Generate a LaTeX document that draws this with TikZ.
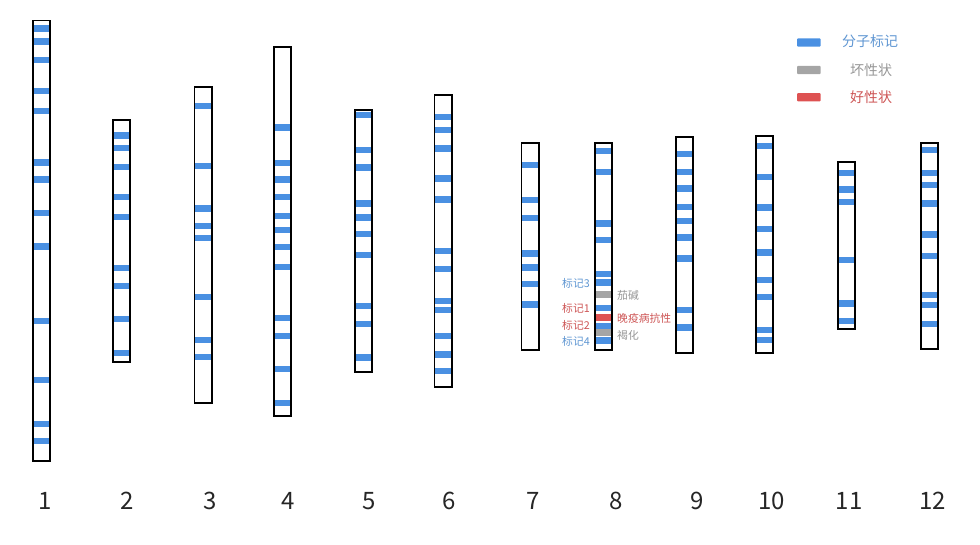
\documentclass[tikz,border=0pt]{standalone}
\usepackage{fontspec}
\setmainfont{Liberation Sans}
\newfontfamily\cjk{Noto Sans CJK SC}
\usetikzlibrary{positioning}
\definecolor{markblue}{RGB}{74,144,226}
\definecolor{badgray}{RGB}{165,165,165}
\definecolor{goodred}{RGB}{222,82,82}
\definecolor{txtblue}{RGB}{95,150,210}
\definecolor{txtred}{RGB}{205,85,85}
\definecolor{txtgray}{RGB}{150,150,150}
\tikzset{band/.style = {fill=markblue},
         chrbox/.style = {draw=black, line width=1.8pt},
         numlabel/.style = {font=\cjk\fontsize{24}{24}\selectfont, text=black!85, anchor=base, inner sep=0pt},
         marklabel/.style = {font=\cjk\fontsize{10.8}{11}\selectfont, inner sep=0pt},
         legendtext/.style = {font=\cjk\fontsize{14}{14}\selectfont, inner sep=0pt, anchor=west}}

% chromosome: name, centre x, top, bottom, band positions
\newcommand{\chrom}[5]{%
  \foreach \y in {#5}
    \fill[band] (#2-8.6,\y-3.2) rectangle (#2+8.6,\y+3.2);
  \draw[chrbox] (#2-8.6,#3) rectangle (#2+8.6,#4);
  \coordinate (#1) at (#2,#4);
}

\begin{document}
\begin{tikzpicture}[x=1pt, y=-1pt]
  \useasboundingbox (0,0) rectangle (980,544);

  \chrom{c1}{41.5}{20.5}{460.7}{28.3,41.5,60,90.7,110.7,162.3,179.3,212.7,246.5,321,380,424,440.7}
  \chrom{c2}{121.5}{120}{361.7}{135.5,147.7,166.7,196.7,216.7,268,285.7,319,353}
  \chrom{c3}{203}{87.3}{403}{106,165.7,208.3,225.7,237.7,296.7,340,356.7}
  \chrom{c4}{282.7}{47.3}{416}{127.3,162.7,179.3,196.7,216,230,246.7,266.7,317.7,335.7,369,402.7}
  \chrom{c5}{363.3}{110}{371.7}{115,150,167.3,203.3,217.3,234,255,305.7,324,357.3}
  \chrom{c6}{443}{95}{386.7}{116.7,130,148.3,178.3,199.3,251,269,301,310,335.7,354.3,371}
  \chrom{c7}{530}{142.7}{350}{165,200,218,253.3,267.3,284,304.5}
  \chrom{c8}{603.7}{142.7}{350}{150.7,171.7,223.3,240,274,282.3,308,326,340.5}
  \chrom{c9}{684.5}{137.3}{352.7}{154,171.7,188.3,206.7,220.7,237.3,258.3,310,327.3}
  \chrom{c10}{764.7}{136}{353.3}{146,176.7,207.3,229,252.3,280,296.7,330,340}
  \chrom{c11}{846.5}{161.7}{329.3}{172.7,189.3,201.7,260,303.3,320.7}
  \chrom{c12}{929.2}{143.3}{349.3}{150,172.7,185,203.3,234.3,255.7,295,305,324}

  % traits on chromosome 8
  \fill[badgray] (595.1,291.1) rectangle (612.3,297.5);
  \fill[goodred] (595.1,314.3) rectangle (612.3,320.7);
  \fill[badgray] (595.1,329.3) rectangle (612.3,335.7);
  \draw[chrbox] (595.1,142.7) rectangle (612.3,350);

  \node[marklabel, text=txtblue, anchor=east] (m3) at (590,283.5) {标记3};
  \node[marklabel, text=txtred, anchor=east] (m1) at (590,308) {标记1};
  \node[marklabel, text=txtred, anchor=east] (m2) at (590,325) {标记2};
  \node[marklabel, text=txtblue, anchor=east] (m4) at (590,341.5) {标记4};
  \node[marklabel, text=txtgray, anchor=west] (t1) at (617,295) {茄碱};
  \node[marklabel, text=txtred, anchor=west] (t2) at (617,318.3) {晚疫病抗性};
  \node[marklabel, text=txtgray, anchor=west] (t3) at (617,335) {褐化};

  % numbers
  \foreach \n/\x in {1/45,2/127.5,3/210,4/288,5/369,6/449,7/533,8/616,9/697,10/771.7,11/849,12/932.5}
    \node[numlabel] (n\n) at (\x,509) {\n};

  % legend
  \fill[markblue, rounded corners=1pt] (797,38.3) rectangle (820.7,46.7);
  \fill[badgray, rounded corners=1pt] (797,65.8) rectangle (820.7,74.2);
  \fill[goodred, rounded corners=1pt] (797,93) rectangle (820.7,101.4);
  \node[legendtext, text=txtblue] (l1) at (842,41) {分子标记};
  \node[legendtext, text=txtgray] (l2) at (850,70) {坏性状};
  \node[legendtext, text=txtred] (l3) at (850,97.5) {好性状};
\end{tikzpicture}
\end{document}
